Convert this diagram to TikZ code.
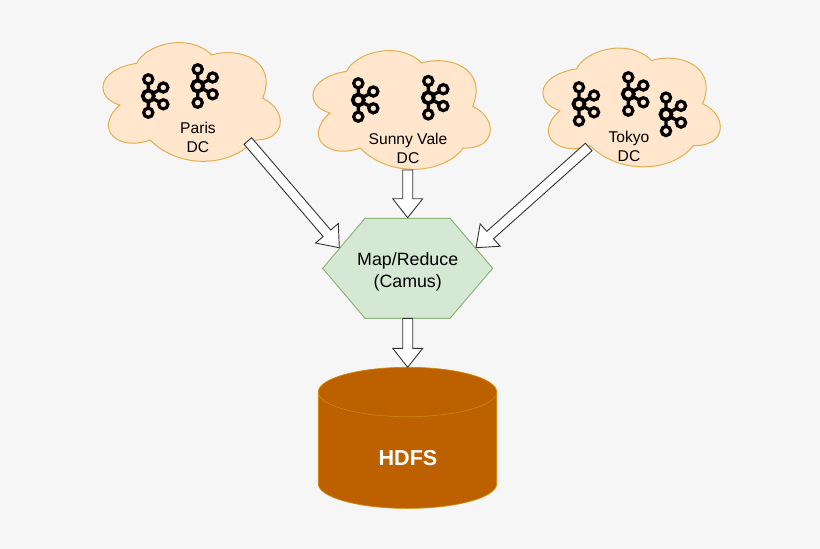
\documentclass[tikz,border=0pt]{standalone}
\usepackage{fontspec}
\setmainfont{Liberation Sans}
\usetikzlibrary{calc}
\definecolor{bgc}{HTML}{F6F6F6}
\definecolor{cloudfill}{HTML}{FFE6CC}
\definecolor{cloudline}{HTML}{E3AE4E}
\definecolor{hexfill}{HTML}{D5E8D4}
\definecolor{hexline}{HTML}{8DB678}
\definecolor{cylfill}{HTML}{BC6000}
\definecolor{cylline}{HTML}{D08A00}
\definecolor{arrowline}{HTML}{333333}
\tikzset{
  cloudlabel/.style={inner sep=0pt,align=center,text=black,font=\fontsize{15.6}{18.7}\selectfont},
  hexlabel/.style={inner sep=0pt,align=center,text=black,font=\fontsize{17.8}{21.5}\selectfont},
  hdfslabel/.style={inner sep=0pt,text=white,font=\bfseries\fontsize{21.6}{26}\selectfont},
  blockstyle/.style={draw=arrowline,fill=white,line width=0.9pt,line join=miter},
  cloud/.pic={
    \draw[fill=cloudfill,draw=cloudline,line width=1pt,x=0.3333pt,y=-0.3333pt]
      (90,225) .. controls (15,205) and (15,120) .. (140,100)
      .. controls (165,45) and (295,5) .. (365,75)
      .. controls (445,50) and (565,90) .. (518,205)
      .. controls (595,240) and (590,335) .. (490,330)
      .. controls (435,405) and (275,425) .. (180,330)
      .. controls (90,365) and (5,300) .. (90,225) -- cycle;
  },
  kafka/.pic={
    \draw[black,line width=3.4pt] (0,0) -- (0,-16.7) (0,0) -- (0,16.7) (0,0) -- (15,-8.5) (0,0) -- (15,8.3);
    \draw[black,fill=cloudfill,line width=3.8pt] (0,0) circle[radius=5.5pt];
    \foreach \px/\py in {0/-16.7,0/16.7,15/-8.5,15/8.3}
      \draw[black,fill=cloudfill,line width=3.2pt] (\px,\py) circle[radius=4.6pt];
  }
}
\newcommand{\blockarrow}[2]{%
  \coordinate (hd) at ($(#2)!19pt!(#1)$);
  \draw[blockstyle]
    ($(#1)!5pt!90:(#2)$) -- ($(hd)!5pt!90:(#2)$) -- ($(hd)!15pt!90:(#2)$) -- (#2)
    -- ($(hd)!15pt!-90:(#2)$) -- ($(hd)!5pt!-90:(#2)$) -- ($(#1)!5pt!-90:(#2)$) -- cycle;
}
\begin{document}
\begin{tikzpicture}[x=1pt,y=-1pt]
\useasboundingbox (0,0) rectangle (820,549);
\fill[bgc] (0,0) rectangle (820,549);
% clouds
\pic at (90,30) {cloud};
\pic at (300,38) {cloud};
\pic at (530,35.5) {cloud};
% kafka icons
\pic at (148.3,96) {kafka};
\pic at (197.7,86) {kafka};
\pic at (358.3,100) {kafka};
\pic at (428.3,97.7) {kafka};
\pic at (579,104) {kafka};
\pic at (628.3,94) {kafka};
\pic at (666,114.3) {kafka};
% labels
\node[cloudlabel] (paris) at (198,137.7) {Paris\\DC};
\node[cloudlabel] (sunny) at (408,148.3) {Sunny Vale\\DC};
\node[cloudlabel] (tokyo) at (629,146.2) {Tokyo\\DC};
% hexagon
\fill[hexfill,draw=hexline,line width=1pt] (322.7,268.3) -- (365,218.3) -- (450,218.3) -- (492.7,268.3) -- (450,318.3) -- (365,318.3) -- cycle;
\node[hexlabel] (mapred) at (407.7,272) {Map/Reduce\\(Camus)};
% cylinder
\draw[fill=cylfill,draw=cylline,line width=0.7pt]
  (318.3,392) .. controls (318.3,378.4) and (358.7,367.3) .. (407.5,367.3)
  .. controls (456.8,367.3) and (496.7,378.4) .. (496.7,392)
  -- (496.7,483.7) .. controls (496.7,497.3) and (456.8,508.4) .. (407.5,508.4)
  .. controls (358.7,508.4) and (318.3,497.3) .. (318.3,483.7) -- cycle;
\draw[draw=cylline,line width=0.6pt]
  (318.3,392) .. controls (318.3,405.6) and (358.7,416.7) .. (407.5,416.7)
  .. controls (456.8,416.7) and (496.7,405.6) .. (496.7,392);
\node[hdfslabel] (hdfs) at (408,457.7) {HDFS};
% arrow ends
\coordinate (parisout) at (247.8,141);
\coordinate (sunnyout) at (407.7,170);
\coordinate (tokyoout) at (588.7,147);
\coordinate (hexinl) at (339.3,247.7);
\coordinate (hexint) at (407.7,217.7);
\coordinate (hexinr) at (476,247.7);
\coordinate (hexout) at (407.7,318.3);
\coordinate (hdfsin) at (407.7,367.3);
\blockarrow{parisout}{hexinl}
\blockarrow{sunnyout}{hexint}
\blockarrow{tokyoout}{hexinr}
\blockarrow{hexout}{hdfsin}
\end{tikzpicture}
\end{document}
